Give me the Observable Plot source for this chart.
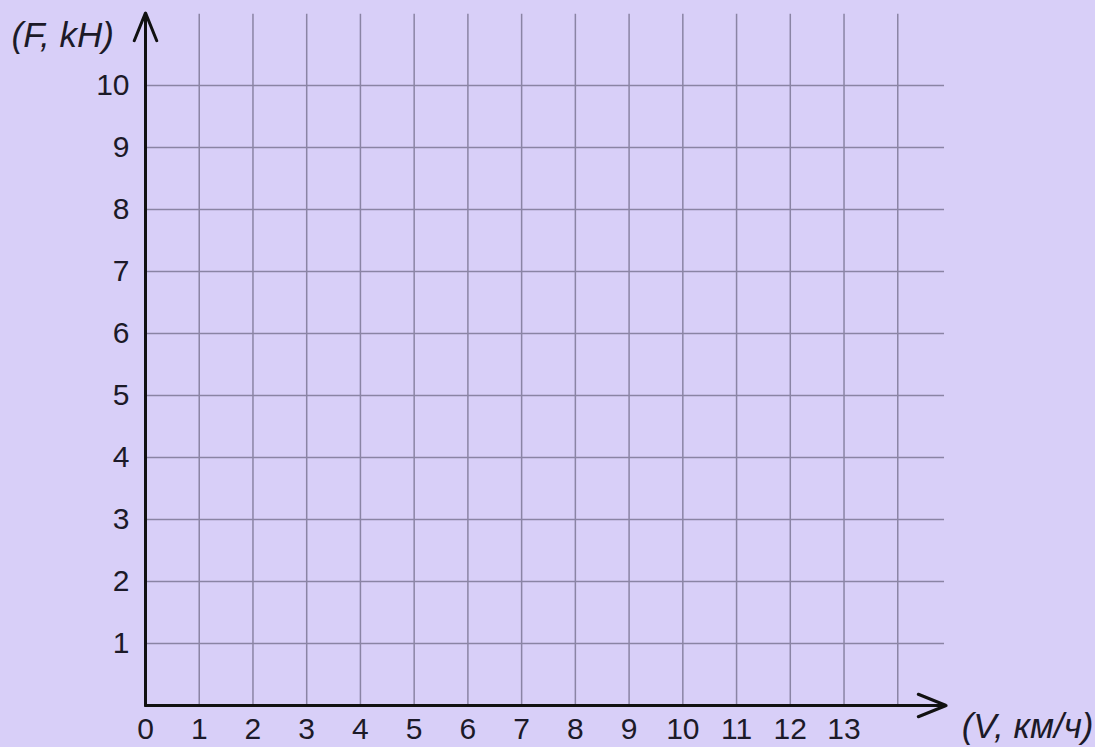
<!DOCTYPE html>
<html><head><meta charset="utf-8">
<script src="https://cdn.jsdelivr.net/npm/d3@7"></script>
<script src="https://cdn.jsdelivr.net/npm/@observablehq/plot@0.6"></script>
<style>html,body{margin:0;padding:0;background:#d8cff8;overflow:hidden} svg{display:block}</style>
</head><body><div id="chart"></div>
<script>
const xTicks = [0,1,2,3,4,5,6,7,8,9,10,11,12,13];
const yTicks = [1,2,3,4,5,6,7,8,9,10];
const xGrid = [1,2,3,4,5,6,7,8,9,10,11,12,13,14];
const yGrid = [1,2,3,4,5,6,7,8,9,10];
const xLabel = "(V, км/ч)";
const yLabel = "(F, kH)";
const gridRight = 14.87;
const gridTop = 11.15;
const xArrowEnd = 14.9;
const yArrowEnd = 11.17;
const axes = [
  {x1: 0, y1: 0, x2: xArrowEnd, y2: 0},
  {x1: 0, y1: 0, x2: 0, y2: yArrowEnd}
];

const chart = Plot.plot({
  width: 1095, height: 747,
  marginLeft: 145, marginRight: 0, marginTop: 0, marginBottom: 42,
  x: {domain: [0, 17.68]},
  y: {domain: [0, 11.37]},
  style: {background: "#d8cff8", color: "#1c1a28", fontFamily: "'Liberation Sans', Arial, sans-serif"},
  marks: [
    Plot.ruleX(xGrid, {x: d => d, y1: 0, y2: gridTop, stroke: "#8a84a4", strokeWidth: 1.5}),
    Plot.ruleY(yGrid, {y: d => d, x1: 0, x2: gridRight, stroke: "#8a84a4", strokeWidth: 1.5}),
    Plot.arrow(axes, {x1: "x1", y1: "y1", x2: "x2", y2: "y2", stroke: "#111", strokeWidth: 3, headLength: 15, headAngle: 44}),
    Plot.axisX(xTicks, {tickSize: 0, tickPadding: 12, fontSize: 30, label: null, tickFormat: d => String(d)}),
    Plot.axisY(yTicks, {tickSize: 0, tickPadding: 16, fontSize: 30, label: null, tickFormat: d => String(d)}),
    Plot.text([yLabel], {frameAnchor: "top-left", text: d => d, dx: -134, dy: 35, lineAnchor: "middle", textAnchor: "start", fontSize: 35, fontStyle: "italic", fill: "#1c1a28"}),
    Plot.text([xLabel], {frameAnchor: "bottom-right", text: d => d, dx: -2, dy: 21, lineAnchor: "middle", textAnchor: "end", fontSize: 35, fontStyle: "italic", fill: "#1c1a28"})
  ]
});
document.getElementById("chart").append(chart);
</script>
</body></html>
